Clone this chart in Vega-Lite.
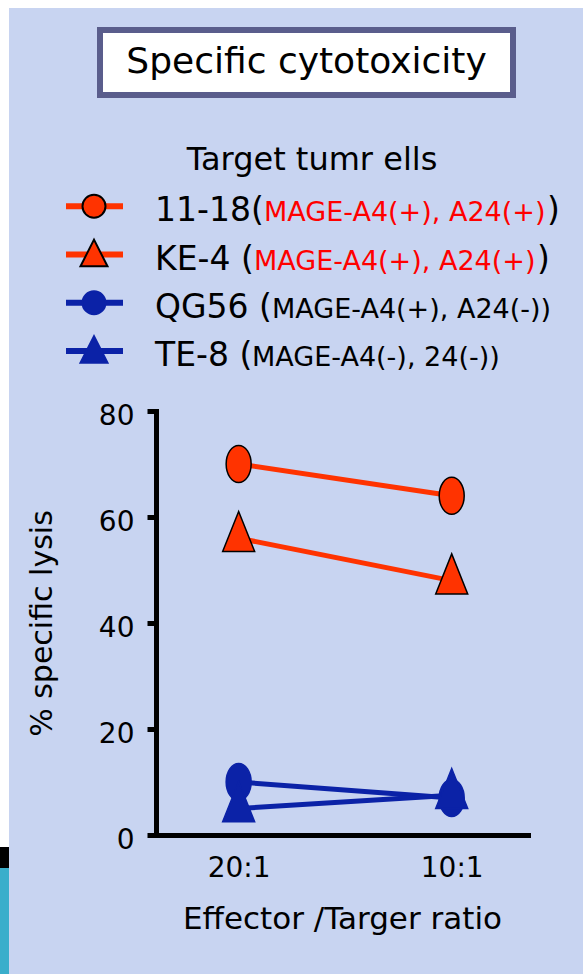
{
  "$schema": "https://vega.github.io/schema/vega-lite/v6.json",
  "background": "#c8d4f1",
  "padding": {"left": 0, "top": 0, "right": 0, "bottom": 0},
  "columns": 2,
  "spacing": 0,
  "bounds": "flush",
  "align": "each",
  "config": {
    "font": "DejaVu Sans",
    "view": {"stroke": null}
  },
  "concat": [
    {
      "width": 156, "height": 1,
      "data": {"values": [{}]},
      "mark": {"type": "text", "text": "", "baseline": "top", "fontSize": 1}
    },
    {
      "width": 427, "height": 411,
      "data": {"values": [
        {"row": "title", "name": "Specific cytotoxicity"},
        {"row": "header", "name": "Target tumr ells"},
        {"row": "11-18", "name": "11-18(", "detail": "MAGE-A4(+), A24(+)", "close": ")"},
        {"row": "KE-4", "name": "KE-4 (", "detail": "MAGE-A4(+), A24(+)", "close": ")"},
        {"row": "QG56", "name": "QG56 (", "detail": "MAGE-A4(+), A24(-))"},
        {"row": "TE-8", "name": "TE-8 (", "detail": "MAGE-A4(-), 24(-))"}
      ]},
      "layer": [
        {
          "transform": [{"filter": "datum.row == 'title'"}],
          "mark": {"type": "rect", "fill": "white"},
          "encoding": {"x": {"value": -156}, "x2": {"value": 427}, "y": {"value": 0}, "y2": {"value": 8}}
        },
        {
          "transform": [{"filter": "datum.row == 'title'"}],
          "mark": {"type": "rect", "fill": "white"},
          "encoding": {"x": {"value": -156}, "x2": {"value": -147}, "y": {"value": 0}, "y2": {"value": 847}}
        },
        {
          "transform": [{"filter": "datum.row == 'title'"}],
          "mark": {"type": "rect", "fill": "black"},
          "encoding": {"x": {"value": -156}, "x2": {"value": -147}, "y": {"value": 847}, "y2": {"value": 868}}
        },
        {
          "transform": [{"filter": "datum.row == 'title'"}],
          "mark": {"type": "rect", "fill": "#3aaecb"},
          "encoding": {"x": {"value": -156}, "x2": {"value": -147}, "y": {"value": 868}, "y2": {"value": 974}}
        },
        {
          "transform": [{"filter": "datum.row == 'title'"}],
          "mark": {"type": "rect", "fill": "white", "stroke": "#5a5d8c", "strokeWidth": 6},
          "encoding": {"x": {"value": -56}, "x2": {"value": 357}, "y": {"value": 30}, "y2": {"value": 95}}
        },
        {
          "transform": [{"filter": "datum.row == 'title'"}],
          "mark": {"type": "text", "fontSize": 36, "color": "black", "align": "center", "baseline": "middle"},
          "encoding": {"x": {"value": 150.5}, "y": {"value": 62}, "text": {"field": "name", "type": "nominal"}}
        },
        {
          "transform": [{"filter": "datum.row == 'header'"}],
          "mark": {"type": "text", "align": "center", "baseline": "alphabetic", "dy": 12, "fontSize": 32, "color": "black"},
          "encoding": {
            "x": {"value": 156},
            "y": {"field": "row", "type": "nominal", "axis": null,
                  "scale": {"type": "point", "domain": ["header", "11-18", "KE-4", "QG56", "TE-8"], "range": [158, 351], "padding": 0}},
            "text": {"field": "name", "type": "nominal"}
          }
        },
        {
          "transform": [{"filter": "datum.row != 'header' && datum.row != 'title'"}],
          "mark": {"type": "rule", "strokeWidth": 6},
          "encoding": {
            "x": {"value": -90}, "x2": {"value": -33},
            "y": {"field": "row", "type": "nominal", "axis": null},
            "color": {"field": "row", "type": "nominal", "legend": null,
              "scale": {"domain": ["11-18", "KE-4", "QG56", "TE-8"], "range": ["#ff3300", "#ff3300", "#0b22a7", "#0b22a7"]}}
          }
        },
        {
          "transform": [{"filter": "datum.row == '11-18' || datum.row == 'QG56'"}],
          "mark": {"type": "point", "shape": "circle", "size": 529, "filled": true, "opacity": 1, "strokeWidth": 2},
          "encoding": {
            "x": {"value": -62},
            "y": {"field": "row", "type": "nominal", "axis": null},
            "fill": {"field": "row", "type": "nominal", "legend": null,
              "scale": {"domain": ["11-18", "KE-4", "QG56", "TE-8"], "range": ["#ff3300", "#ff3300", "#0b22a7", "#0b22a7"]}},
            "stroke": {"field": "row", "type": "nominal", "legend": null,
              "scale": {"domain": ["11-18", "KE-4", "QG56", "TE-8"], "range": ["black", "black", "#0b22a7", "#0b22a7"]}}
          }
        },
        {
          "transform": [{"filter": "datum.row == 'KE-4' || datum.row == 'TE-8'"}],
          "mark": {"type": "point", "shape": "M0,-1.1L1,0.87L-1,0.87Z", "size": 729, "filled": true, "opacity": 1, "strokeWidth": 2},
          "encoding": {
            "x": {"value": -62},
            "y": {"field": "row", "type": "nominal", "axis": null},
            "fill": {"field": "row", "type": "nominal", "legend": null},
            "stroke": {"field": "row", "type": "nominal", "legend": null}
          }
        },
        {
          "transform": [{"filter": "datum.row != 'header' && datum.row != 'title'"}],
          "mark": {"type": "text", "align": "left", "baseline": "alphabetic", "dy": 15, "fontSize": 33, "color": "black"},
          "encoding": {
            "x": {"value": -1},
            "y": {"field": "row", "type": "nominal", "axis": null},
            "text": {"field": "name", "type": "nominal"}
          }
        },
        {
          "transform": [{"filter": "datum.row == '11-18'"}],
          "mark": {"type": "text", "align": "left", "baseline": "alphabetic", "dy": 15, "fontSize": 27, "color": "#ff0000"},
          "encoding": {
            "x": {"value": 108},
            "y": {"field": "row", "type": "nominal", "axis": null},
            "text": {"field": "detail", "type": "nominal"}
          }
        },
        {
          "transform": [{"filter": "datum.row == 'KE-4'"}],
          "mark": {"type": "text", "align": "left", "baseline": "alphabetic", "dy": 15, "fontSize": 27, "color": "#ff0000"},
          "encoding": {
            "x": {"value": 98},
            "y": {"field": "row", "type": "nominal", "axis": null},
            "text": {"field": "detail", "type": "nominal"}
          }
        },
        {
          "transform": [{"filter": "datum.row == 'QG56'"}],
          "mark": {"type": "text", "align": "left", "baseline": "alphabetic", "dy": 15, "fontSize": 27, "color": "black"},
          "encoding": {
            "x": {"value": 116},
            "y": {"field": "row", "type": "nominal", "axis": null},
            "text": {"field": "detail", "type": "nominal"}
          }
        },
        {
          "transform": [{"filter": "datum.row == 'TE-8'"}],
          "mark": {"type": "text", "align": "left", "baseline": "alphabetic", "dy": 15, "fontSize": 27, "color": "black"},
          "encoding": {
            "x": {"value": 96},
            "y": {"field": "row", "type": "nominal", "axis": null},
            "text": {"field": "detail", "type": "nominal"}
          }
        },
        {
          "transform": [{"filter": "datum.row == '11-18'"}],
          "mark": {"type": "text", "align": "left", "baseline": "alphabetic", "dy": 15, "fontSize": 33, "color": "black"},
          "encoding": {
            "x": {"value": 391},
            "y": {"field": "row", "type": "nominal", "axis": null},
            "text": {"field": "close", "type": "nominal"}
          }
        },
        {
          "transform": [{"filter": "datum.row == 'KE-4'"}],
          "mark": {"type": "text", "align": "left", "baseline": "alphabetic", "dy": 15, "fontSize": 33, "color": "black"},
          "encoding": {
            "x": {"value": 381},
            "y": {"field": "row", "type": "nominal", "axis": null},
            "text": {"field": "close", "type": "nominal"}
          }
        }
      ]
    },
    {
      "width": 156, "height": 1,
      "data": {"values": [{}]},
      "mark": {"type": "text", "text": "", "baseline": "top", "fontSize": 1}
    },
    {
      "width": 372, "height": 424,
      "data": {"values": [
        {"ratio": "20:1", "series": "11-18", "lysis": 70},
        {"ratio": "10:1", "series": "11-18", "lysis": 64},
        {"ratio": "20:1", "series": "KE-4", "lysis": 56},
        {"ratio": "10:1", "series": "KE-4", "lysis": 48},
        {"ratio": "20:1", "series": "QG56", "lysis": 10},
        {"ratio": "10:1", "series": "QG56", "lysis": 7},
        {"ratio": "20:1", "series": "TE-8", "lysis": 5},
        {"ratio": "10:1", "series": "TE-8", "lysis": 7.5}
      ]},
      "encoding": {
        "x": {"field": "ratio", "type": "ordinal", "sort": ["20:1", "10:1"],
              "scale": {"type": "point", "padding": 0.373, "align": 0.52},
              "axis": {"title": "Effector /Targer ratio", "labelAngle": 0, "ticks": false, "tickSize": 0,
                       "domainColor": "black", "domainWidth": 5, "domainCap": "square",
                       "labelFontSize": 28, "labelColor": "black", "labelPadding": 19,
                       "titleFontSize": 31, "titleFontWeight": "normal", "titleColor": "black", "titlePadding": 22}},
        "y": {"field": "lysis", "type": "quantitative",
              "scale": {"domain": [0, 80], "nice": false},
              "axis": {"title": "% specific lysis", "values": [0, 20, 40, 60, 80], "grid": false,
                       "domainColor": "black", "domainWidth": 5, "domainCap": "square",
                       "tickColor": "black", "tickWidth": 5, "tickSize": 9,
                       "labelFontSize": 28, "labelColor": "black", "labelPadding": 13, "labelOffset": 5,
                       "titleFontSize": 30, "titleFontWeight": "normal", "titleColor": "black", "titlePadding": 41}}
      },
      "layer": [
        {
          "mark": {"type": "line", "strokeWidth": 5},
          "encoding": {"color": {"field": "series", "type": "nominal", "legend": null,
            "scale": {"domain": ["11-18", "KE-4", "QG56", "TE-8"], "range": ["#ff3300", "#ff3300", "#0b22a7", "#0b22a7"]}}}
        },
        {
          "transform": [{"filter": "datum.series == '11-18' || datum.series == 'QG56'"}],
          "mark": {"type": "point", "shape": "M0,-1.48C0.5523,-1.48 1,-0.8174 1,0C1,0.8174 0.5523,1.48 0,1.48C-0.5523,1.48 -1,0.8174 -1,0C-1,-0.8174 -0.5523,-1.48 0,-1.48Z",
                   "size": 625, "filled": true, "opacity": 1, "strokeWidth": 1.5},
          "encoding": {
            "fill": {"field": "series", "type": "nominal", "legend": null,
              "scale": {"domain": ["11-18", "KE-4", "QG56", "TE-8"], "range": ["#ff3300", "#ff3300", "#0b22a7", "#0b22a7"]}},
            "stroke": {"field": "series", "type": "nominal", "legend": null,
              "scale": {"domain": ["11-18", "KE-4", "QG56", "TE-8"], "range": ["black", "black", "black", "#0b22a7"]}}
          }
        },
        {
          "transform": [{"filter": "datum.series == 'KE-4' || datum.series == 'TE-8'"}],
          "mark": {"type": "point", "shape": "M0,-1.67L1,0.83L-1,0.83Z", "size": 1024, "filled": true, "opacity": 1, "strokeWidth": 1.5},
          "encoding": {
            "fill": {"field": "series", "type": "nominal", "legend": null},
            "stroke": {"field": "series", "type": "nominal", "legend": null}
          }
        }
      ]
    }
  ]
}
